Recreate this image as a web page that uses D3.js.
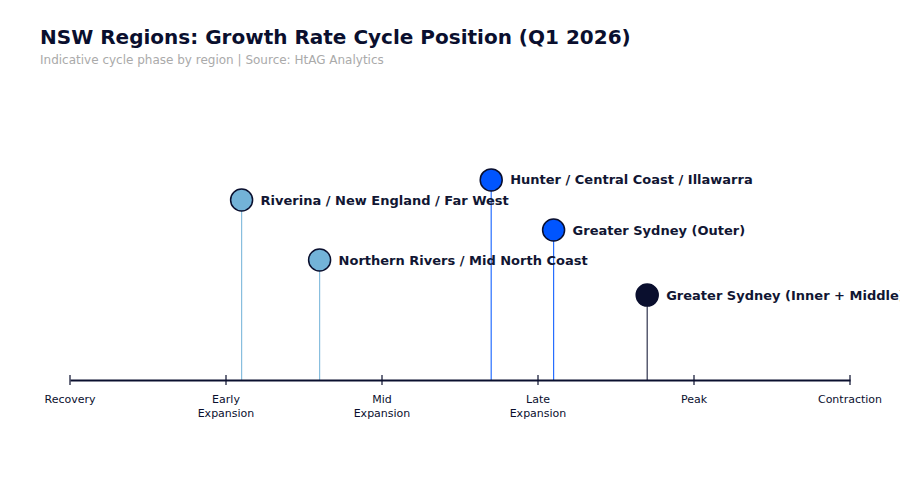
<!DOCTYPE html>
<html>
<head>
<meta charset="utf-8">
<script src="https://cdn.jsdelivr.net/npm/d3@7"></script>
<style>
  body { margin: 0; background: #fff; }
  svg { font-family: "DejaVu Sans", sans-serif; }
</style>
</head>
<body>
<svg width="900" height="500"></svg>
<script>
// cycle phases along the axis
var phases = ["Recovery", "Early\nExpansion", "Mid\nExpansion", "Late\nExpansion", "Peak", "Contraction"];

// regions, their position on the cycle and the stem height (indicative only)
var regions = ["Riverina / New England / Far West", "Northern Rivers / Mid North Coast",
               "Hunter / Central Coast / Illawarra", "Greater Sydney (Outer)",
               "Greater Sydney (Inner + Middle)"];
var positions = [1.1, 1.6, 2.7, 3.1, 3.7];
var heights = [0.6, 0.4, 0.667, 0.5, 0.283];
var tiers = ["early", "early", "mid", "mid", "late"];

var svg = d3.select("svg"),
    axisY = 380;

var colour = d3.scaleOrdinal()
    .domain(["early", "mid", "late"])
    .range(["#73b3d8", "#0055ff", "#0a0f2e"]);

var x = d3.scaleLinear().domain([0, 5]).range([70, 850]);
var y = d3.scaleLinear().domain([0, 1]).range([axisY, 80]);

svg.append("text")
    .attr("x", 40).attr("y", 44)
    .style("font-size", "20px").style("font-weight", "bold")
    .style("fill", "#0a0f2e")
    .text("NSW Regions: Growth Rate Cycle Position (Q1 2026)");

svg.append("text")
    .attr("x", 40).attr("y", 64)
    .style("font-size", "12px")
    .style("fill", "#aaaaaa")
    .text("Indicative cycle phase by region | Source: HtAG Analytics");

var data = regions.map(function(r, i) {
  return { name: r, pos: positions[i], h: heights[i], tier: tiers[i] };
});

// stems
svg.append("g").selectAll("line")
  .data(data)
  .enter().append("line")
    .attr("x1", function(d) { return x(d.pos); })
    .attr("x2", function(d) { return x(d.pos); })
    .attr("y1", axisY)
    .attr("y2", function(d) { return y(d.h); })
    .attr("stroke", function(d) { return colour(d.tier); })
    .attr("stroke-opacity", 0.85)
    .attr("stroke-width", 1.2);

// axis
var axis = d3.axisBottom(x)
    .tickValues(d3.range(phases.length))
    .tickSize(0)
    .tickFormat("");

var ax = svg.append("g")
    .attr("transform", "translate(0," + axisY + ")")
    .call(axis)
    .attr("font-family", null)
    .attr("font-size", null);
ax.select(".domain").attr("stroke", "#0a0f2e").attr("stroke-width", 2);

ax.selectAll(".tickmark")
  .data(phases)
  .enter().append("line")
    .attr("x1", function(d, i) { return x(i); })
    .attr("x2", function(d, i) { return x(i); })
    .attr("y1", -5).attr("y2", 5)
    .attr("stroke", "#0a0f2e")
    .attr("stroke-width", 1.2);

ax.selectAll(".phase")
  .data(phases)
  .enter().append("text")
    .attr("class", "phase")
    .attr("text-anchor", "middle")
    .attr("x", function(d, i) { return x(i); })
    .attr("y", 23)
    .style("font-family", "DejaVu Sans, sans-serif")
    .style("font-size", "11px")
    .style("fill", "#0a0f2e")
    .each(function(d) {
      var t = d3.select(this);
      d.split("\n").forEach(function(line, k) {
        t.append("tspan")
          .attr("x", t.attr("x"))
          .attr("dy", k === 0 ? 0 : 14)
          .text(line);
      });
    });

// points
var pts = svg.append("g").selectAll("g")
  .data(data)
  .enter().append("g")
    .attr("transform", function(d) { return "translate(" + x(d.pos) + "," + y(d.h) + ")"; });

pts.append("circle")
    .attr("r", 11)
    .attr("fill", function(d) { return colour(d.tier); })
    .attr("stroke", "#0a0f2e")
    .attr("stroke-width", 1.5);

pts.append("text")
    .attr("x", 19)
    .attr("dy", "0.35em")
    .style("font-size", "13px")
    .style("font-weight", "bold")
    .style("fill", "#111633")
    .text(function(d) { return d.name; });
</script>
</body>
</html>
